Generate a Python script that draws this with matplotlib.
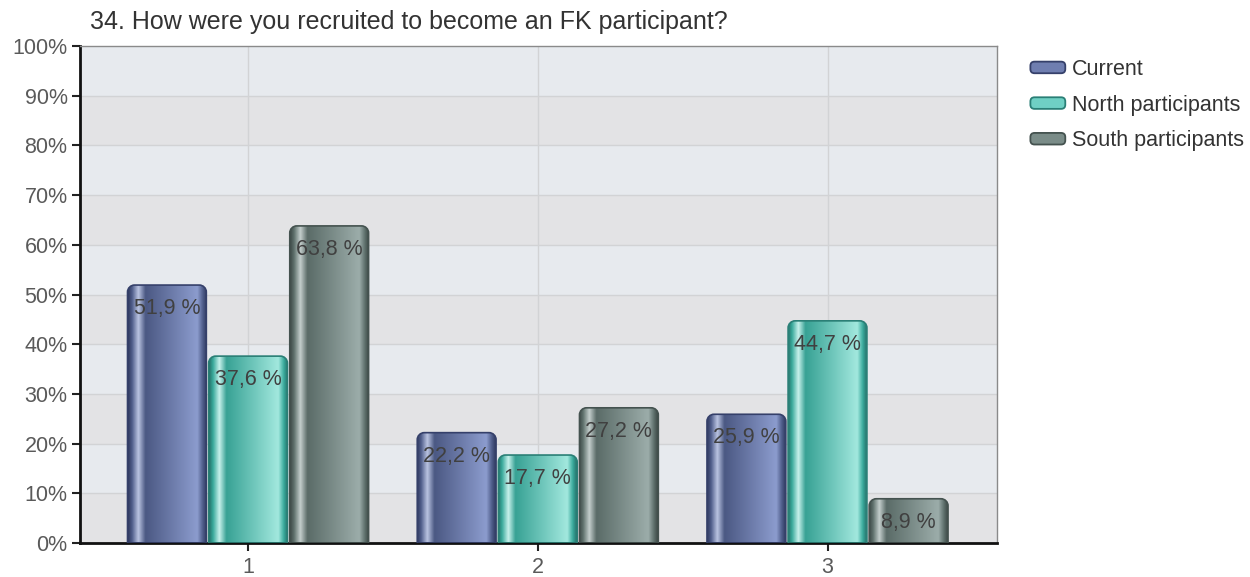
import numpy as np
import matplotlib
matplotlib.use("Agg")
import matplotlib.pyplot as plt
from matplotlib.path import Path
from matplotlib.patches import PathPatch, FancyBboxPatch, Rectangle
from matplotlib.legend_handler import HandlerPatch
from matplotlib.colors import to_rgb

plt.rcParams['font.family'] = ['Liberation Sans', 'DejaVu Sans']

title = "34. How were you recruited to become an FK participant?"
categories = ["1", "2", "3"]
series_names = ["Current", "North participants", "South participants"]
current = [51.9, 22.2, 25.9]
north = [37.6, 17.7, 44.7]
south = [63.8, 27.2, 8.9]
value_labels_current = ["51,9 %", "22,2 %", "25,9 %"]
value_labels_north = ["37,6 %", "17,7 %", "44,7 %"]
value_labels_south = ["63,8 %", "27,2 %", "8,9 %"]
yticks = list(range(0, 101, 10))

series = [current, north, south]
series_labels = [value_labels_current, value_labels_north, value_labels_south]
# (dark, light, edge)
palettes = [("#4f5d8a", "#8c9cce", "#35406a"),
            ("#3aaa9c", "#a2e8de", "#2a7f76"),
            ("#5f716d", "#9cadaa", "#44524f")]

W, H = 1250, 577
fig = plt.figure(figsize=(W / 100, H / 100), dpi=100)
ax_l, ax_r, ax_t, ax_b = 80, 997, 46, 543
ax = fig.add_axes([ax_l / W, 1 - ax_b / H, (ax_r - ax_l) / W, (ax_b - ax_t) / H])
xlim = (0.42, 3.585)
ylim = (0, 100)
ax.set_xlim(*xlim)
ax.set_ylim(*ylim)

# background bands
for i in range(10):
    col = "#e3e3e5" if i % 2 == 0 else "#e7eaee"
    ax.axhspan(i * 10, i * 10 + 10, color=col, zorder=0, lw=0)
for y in yticks[1:-1]:
    ax.axhline(y, color="#d2d3d5", lw=1, zorder=0.5)
for x in range(1, len(categories) + 1):
    ax.axvline(x, color="#d2d3d5", lw=1, zorder=0.5)

xpp = (xlim[1] - xlim[0]) / (ax_r - ax_l)
ypp = (ylim[1] - ylim[0]) / (ax_b - ax_t)


def rounded_top_path(x0, x1, h, r_px=7):
    rx, ry = r_px * xpp, min(r_px * ypp, h / 2)
    k = 0.5523
    verts = [(x0, 0), (x0, h - ry),
             (x0, h - ry + k * ry), (x0 + rx - k * rx, h), (x0 + rx, h),
             (x1 - rx, h),
             (x1 - rx + k * rx, h), (x1, h - ry + k * ry), (x1, h - ry),
             (x1, 0), (x0, 0)]
    codes = [Path.MOVETO, Path.LINETO,
             Path.CURVE4, Path.CURVE4, Path.CURVE4,
             Path.LINETO,
             Path.CURVE4, Path.CURVE4, Path.CURVE4,
             Path.LINETO, Path.CLOSEPOLY]
    return Path(verts, codes)


def gradient(dark, light, edge, n=200):
    d, l, e = np.array(to_rgb(dark)), np.array(to_rgb(light)), np.array(to_rgb(edge))
    white = np.ones(3)
    hl = l * 0.6 + white * 0.4
    stops = [(0.0, e * 0.9), (0.05, d), (0.13, hl), (0.22, d * 0.95),
             (0.88, l), (0.95, d), (1.0, e * 0.9)]
    t = np.linspace(0, 1, n)
    ts = [s[0] for s in stops]
    img = np.zeros((1, n, 3))
    for c in range(3):
        img[0, :, c] = np.interp(t, ts, [s[1][c] for s in stops])
    return np.clip(img, 0, 1)


bar_w = 0.272
offsets = [-0.28, 0.0, 0.28]
xs = np.arange(1, len(categories) + 1)
for si, (vals, labs, pal) in enumerate(zip(series, series_labels, palettes)):
    bars = ax.bar(xs + offsets[si], vals, width=bar_w, color="none", edgecolor="none", zorder=2)
    img = gradient(*pal)
    for b, v, lab in zip(bars, vals, labs):
        x0 = b.get_x()
        x1 = x0 + b.get_width()
        h = b.get_height()
        p = rounded_top_path(x0, x1, h)
        patch = PathPatch(p, facecolor="none", edgecolor=pal[2], lw=1.2, zorder=3)
        im = ax.imshow(img, extent=(x0, x1, 0, h), aspect="auto", zorder=2.5,
                       interpolation="bilinear")
        clip = PathPatch(p, transform=ax.transData, facecolor="none", edgecolor="none")
        ax.add_patch(clip)
        im.set_clip_path(clip)
        ax.add_patch(patch)
        ax.text((x0 + x1) / 2, h - 4.7, lab, ha="center", va="center",
                fontsize=15.5, color="#404040", zorder=4)

ax.set_xlim(*xlim)
ax.set_ylim(*ylim)
ax.set_xticks(xs)
ax.set_xticklabels(categories)
ax.set_yticks(yticks)
ax.set_yticklabels([f"{y}%" for y in yticks])
ax.tick_params(axis="both", colors="#222222", labelcolor="#5a5a5a", labelsize=15.5,
               length=6, width=1.5, direction="out")
ax.tick_params(axis="x", pad=4)
ax.tick_params(axis="y", pad=3)
for s in ["left", "bottom"]:
    ax.spines[s].set_color("#111111")
    ax.spines[s].set_linewidth(2)
for s in ["top", "right"]:
    ax.spines[s].set_color("#8a8a8a")
    ax.spines[s].set_linewidth(1)

fig.text(90 / W, 1 - 22 / H, title, fontsize=18, color="#333333", ha="left", va="center")


class RoundHandler(HandlerPatch):
    def create_artists(self, legend, orig_handle, xdescent, ydescent, width, height, fontsize, trans):
        p = FancyBboxPatch((-xdescent + 1, -ydescent + 1), width - 2, height - 2,
                           boxstyle="round,pad=0,rounding_size=3",
                           facecolor=orig_handle.get_facecolor(),
                           edgecolor=orig_handle.get_edgecolor(), lw=1.3, transform=trans)
        return [p]


handles = [Rectangle((0, 0), 1, 1, facecolor=pal[0], edgecolor=pal[2]) for pal in palettes]
handles[0].set_facecolor("#6f7eb0")
handles[1].set_facecolor("#6fd0c4")
handles[2].set_facecolor("#7a8c88")
leg = fig.legend(handles, series_names, loc="upper left",
                 bbox_to_anchor=(1029 / W, 1 - 59 / H), frameon=False,
                 fontsize=15.5, handlelength=1.75, handleheight=0.65, handletextpad=0.25,
                 labelspacing=0.68, borderaxespad=0, borderpad=0,
                 handler_map={Rectangle: RoundHandler()})
for t in leg.get_texts():
    t.set_color("#333333")

fig.savefig("out.png", dpi=100)
